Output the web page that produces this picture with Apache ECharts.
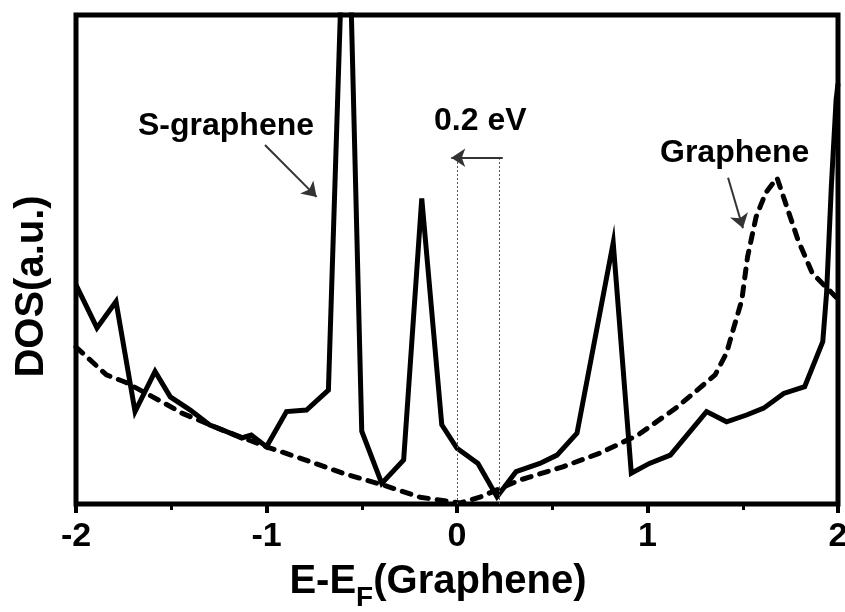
<!DOCTYPE html>
<html>
<head>
<meta charset="utf-8">
<script src="https://cdn.jsdelivr.net/npm/echarts@6/dist/echarts.min.js"></script>
<style>
  html, body { margin: 0; padding: 0; background: #fff; }
  #chart { width: 845px; height: 612px; }
</style>
</head>
<body>
<div id="chart"></div>
<script>
// Density of states of S-doped graphene (solid) and pristine graphene (dashed)
const energySGraphene = [-2.0, -1.89, -1.79, -1.69, -1.585, -1.505, -1.40, -1.30, -1.19, -1.13, -1.08, -1.0,
  -0.895, -0.79, -0.675, -0.58, -0.50, -0.395, -0.28, -0.185, -0.08, 0.0, 0.11, 0.21, 0.31, 0.435, 0.525,
  0.63, 0.82, 0.915, 1.01, 1.12, 1.31, 1.415, 1.52, 1.61, 1.715, 1.825, 1.92, 1.94, 1.965, 1.99, 2.0];
const dosSGraphene = [44.8, 36.0, 41.4, 18.9, 27.1, 21.9, 19.2, 16.2, 14.5, 13.5, 14.1, 11.7,
  18.9, 19.2, 23.3, 140, 14.9, 4.2, 9.0, 62.5, 16.2, 11.4, 8.3, 1.5, 6.6, 8.3, 10.0,
  14.5, 53.4, 6.3, 8.3, 10.0, 18.9, 16.8, 18.2, 19.6, 22.6, 24.0, 33.2, 43.1, 64.9, 82.6, 86];

const energyGraphene = [-2.0, -1.84, -1.74, -1.54, -1.445, -1.23, -1.0, -0.825, -0.6, -0.39, -0.195, 0.015,
  0.12, 0.33, 0.555, 0.75, 0.95, 1.155, 1.355, 1.415, 1.445, 1.495, 1.525, 1.57, 1.62, 1.68, 1.79, 1.865, 1.99];
const dosGraphene = [32.1, 26.4, 24.9, 20.7, 18.6, 15.1, 11.7, 9.4, 6.3, 3.9, 1.4, 0.2,
  1.4, 4.9, 7.6, 10.4, 14.1, 19.8, 26.4, 30.9, 35.0, 41.7, 50.5, 58.7, 63.6, 66.7, 54.0, 47.2, 42.3];

const xTicks = [-2, -1, 0, 1, 2];
const fermiShift = [0, 0.22];   // Fermi level of graphene and of S-graphene (eV)

const pairs = (xs, ys) => xs.map((x, i) => [x, ys[i]]);

const FONT = '"Liberation Sans", Arial, sans-serif';
const chart = echarts.init(document.getElementById('chart'));

chart.setOption({
  backgroundColor: '#fff',
  animation: false,
  grid: { left: 76, right: 7, top: 15, bottom: 108, show: true, borderColor: '#000', borderWidth: 5,
    containLabel: false, outerBoundsMode: 'none' },
  xAxis: {
    type: 'value', min: xTicks[0], max: xTicks[xTicks.length - 1], interval: 1,
    axisLine: { show: false },
    splitLine: { show: false },
    axisTick: { show: true, inside: false, length: 9, lineStyle: { color: '#000', width: 4 } },
    minorTick: { show: true, splitNumber: 2, length: 6, lineStyle: { color: '#000', width: 3 } },
    axisLabel: { color: '#000', fontSize: 34, fontWeight: 'bold', fontFamily: FONT, margin: 16,
      showMinLabel: true, showMaxLabel: true,
      formatter: v => xTicks.includes(v) ? String(v) : '' },
    name: '{m|E-E}{s|F}{m|(Graphene)}',
    nameLocation: 'middle', nameGap: 58,
    nameTextStyle: {
      padding: [0, 38, 0, 0],
      rich: {
        m: { fontSize: 40, fontWeight: 'bold', fontFamily: FONT, color: '#000', verticalAlign: 'top', lineHeight: 44 },
        s: { fontSize: 28, fontWeight: 'bold', fontFamily: FONT, color: '#000', verticalAlign: 'top', lineHeight: 44, padding: [22, 0, 0, 0] }
      }
    }
  },
  yAxis: {
    type: 'value', min: 0, max: 100,
    axisLine: { show: false }, axisTick: { show: false }, axisLabel: { show: false }, splitLine: { show: false },
    name: 'DOS(a.u.)', nameLocation: 'middle', nameGap: 24,
    nameTextStyle: { fontSize: 40, fontWeight: 'bold', fontFamily: FONT, color: '#000', padding: [0, 0, 0, -54] }
  },
  series: [
    {
      name: 'S-graphene', type: 'line', data: pairs(energySGraphene, dosSGraphene),
      showSymbol: false, clip: true,
      lineStyle: { color: '#000', width: 5, join: 'miter' },
      markLine: {
        silent: true, animation: false,
        label: { show: false },
        data: [
          [{ coord: [fermiShift[0], 0], symbol: 'none' }, { coord: [fermiShift[0], 70.5], symbol: 'none' }],
          [{ coord: [fermiShift[1], 0], symbol: 'none' }, { coord: [fermiShift[1], 70.5], symbol: 'none' }]
        ],
        lineStyle: { color: '#555', width: 1, type: [2, 2] }
      }
    },
    {
      name: 'Graphene', type: 'line', data: pairs(energyGraphene, dosGraphene),
      showSymbol: false, clip: true,
      lineStyle: { color: '#000', width: 5, type: [9, 9], cap: 'round' }
    },
    {
      // annotation arrows
      type: 'line', data: [], silent: true,
      markLine: {
        silent: true, animation: false,
        symbol: ['none', 'arrow'], symbolSize: 14,
        label: { show: false },
        lineStyle: { color: '#333', width: 2, type: 'solid' },
        data: [
          [{ coord: [fermiShift[1] + 0.02, 70.8] }, { coord: [fermiShift[0] - 0.03, 70.8] }],
          [{ coord: [-1.008, 73.4] }, { coord: [-0.737, 62.8] }],
          [{ coord: [1.423, 66.7] }, { coord: [1.501, 56.4] }]
        ]
      }
    }
  ],
  graphic: [
    { type: 'text', left: 138, top: 110, style: { text: 'S-graphene', font: 'bold 32px ' + FONT, fill: '#000' } },
    { type: 'text', left: 434, top: 105, style: { text: '0.2 eV', font: 'bold 32px ' + FONT, fill: '#000' } },
    { type: 'text', left: 660, top: 137, style: { text: 'Graphene', font: 'bold 32px ' + FONT, fill: '#000' } }
  ]
});
</script>
</body>
</html>
